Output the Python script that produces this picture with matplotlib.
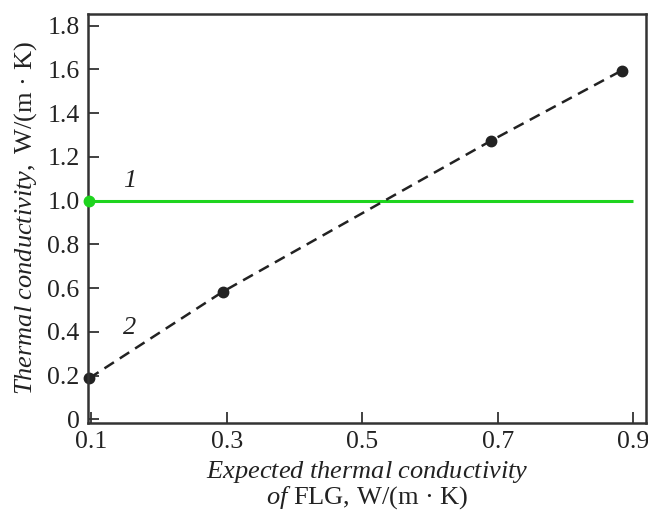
import numpy as np
import matplotlib
matplotlib.use("Agg")
import matplotlib.pyplot as plt

plt.rcParams['font.family'] = ['Liberation Serif', 'DejaVu Serif']
plt.rcParams['mathtext.fontset'] = 'custom'
plt.rcParams['mathtext.rm'] = 'Liberation Serif'
plt.rcParams['mathtext.it'] = 'Liberation Serif:italic'

# data
flg_x = [0.097, 0.294, 0.69, 0.883]
measured_y = [0.188, 0.583, 1.273, 1.594]
const_x = [0.097, 0.9]
const_y = [1.0, 1.0]

xticks = [0.1, 0.3, 0.5, 0.7, 0.9]
yticks = [0, 0.2, 0.4, 0.6, 0.8, 1.0, 1.2, 1.4, 1.6, 1.8]

GREEN = "#1ed41e"
DARK = "#222222"
SPINE = "#333333"

fig = plt.figure(figsize=(6.48, 5.15), dpi=100)
ax = fig.add_axes([0.1358, 0.179, 0.9969 - 0.1358, 0.973 - 0.179])

# curve 1: constant
ax.plot(const_x, const_y, color=GREEN, lw=2.2, solid_capstyle='butt')
ax.plot(const_x[:1], const_y[:1], 'o', color=GREEN, ms=7.5, zorder=4, clip_on=False)

# curve 2: measured
ax.plot(flg_x, measured_y, '--', color=DARK, lw=1.8, dashes=(4.5, 2.8), marker='o',
        ms=7.5, markerfacecolor=DARK, markeredgecolor=DARK, clip_on=False)

ax.text(0.157, 1.09, "1", fontsize=19, style='italic', ha='center', va='center', color=DARK)
ax.text(0.157, 0.416, "2", fontsize=19, style='italic', ha='center', va='center', color=DARK)

ax.set_xlim(0.0953, 0.919)
ax.set_ylim(-0.0155, 1.853)
ax.set_xticks(xticks)
ax.set_xticklabels([f"{v:.1f}" for v in xticks])
ax.set_yticks(yticks)
ax.set_yticklabels(["0"] + [f"{v:.1f}" for v in yticks[1:]])

ax.tick_params(direction='in', length=8, width=1.3, color=SPINE, labelsize=18.5,
               labelcolor=DARK, pad=6)
for s in ax.spines.values():
    s.set_linewidth(1.8)
    s.set_color(SPINE)

ax.set_ylabel(r"$\mathit{Thermal\ conductivity,}$ W/(m · K)", fontsize=19, color=DARK, labelpad=6)
ax.set_xlabel("$\\mathit{Expected\\ thermal\\ conductivity}$\n$\\mathit{of}$ FLG, W/(m · K)",
              fontsize=19, color=DARK, labelpad=4, linespacing=0.95)

fig.savefig("out.png", dpi=100)
